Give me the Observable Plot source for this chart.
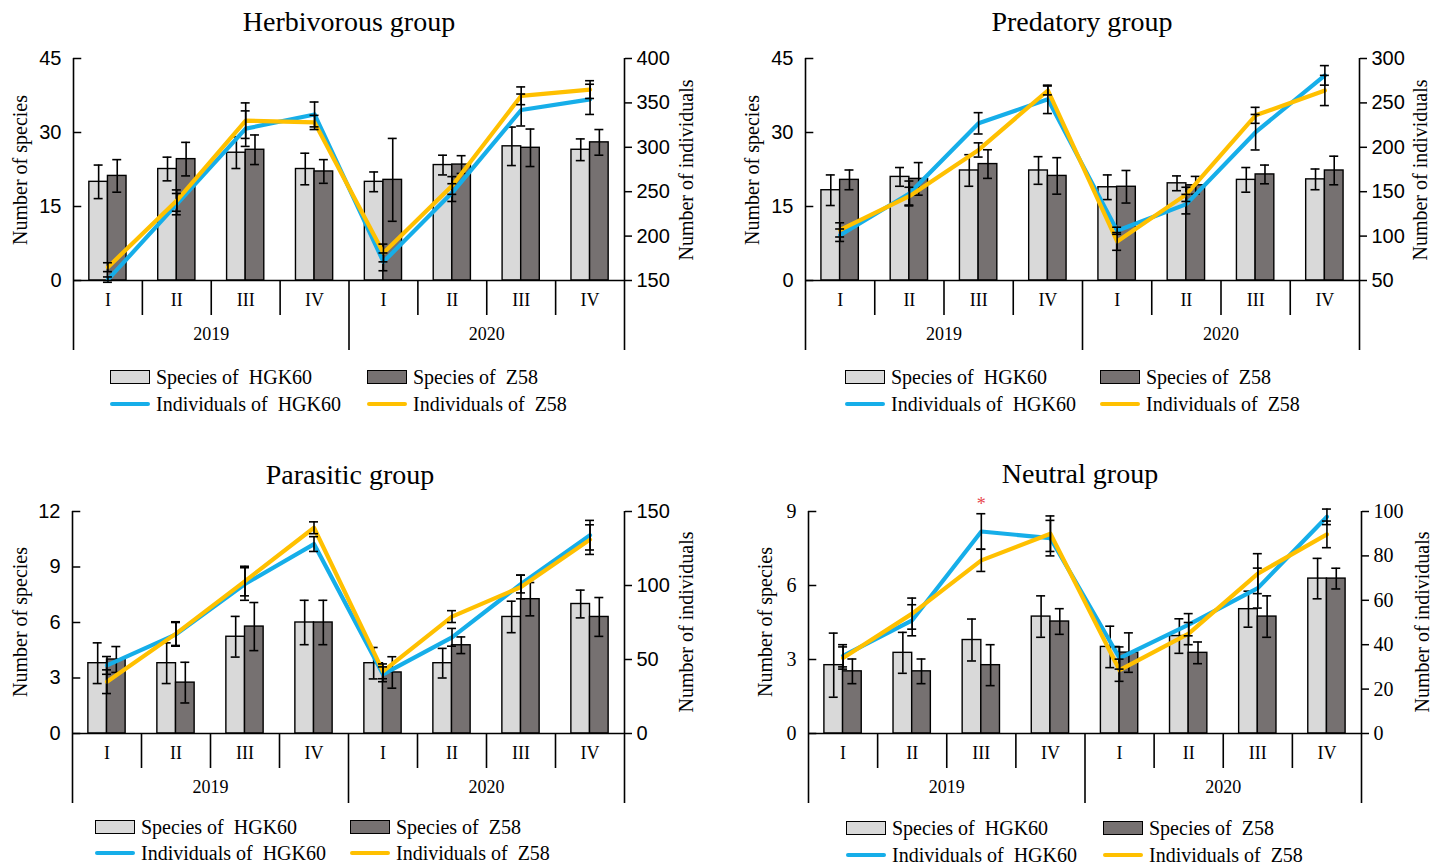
<!DOCTYPE html>
<html><head><meta charset="utf-8">
<script src="https://cdn.jsdelivr.net/npm/d3@7"></script>
<script src="https://cdn.jsdelivr.net/npm/@observablehq/plot@0.6"></script>
<style>
body{margin:0;background:#fff;width:1440px;height:865px;overflow:hidden;position:relative;font-family:"Liberation Serif",serif;color:#000}
.abs{position:absolute}
.title{font-size:28px;transform:translate(-50%,-50%);white-space:nowrap}
.ylab{font-size:20px;white-space:nowrap;transform:translate(-50%,-50%) rotate(-90deg)}
.leg{font-size:20px;white-space:pre;display:flex;align-items:center;height:24px;transform:translateY(-50%)}
.sw{width:40px;height:14px;border:1.5px solid #000;margin-right:6px;box-sizing:border-box}
.ln{width:40px;height:4px;border-radius:2px;margin-right:6px}
svg{position:absolute;overflow:visible}
</style></head><body>
<div id="root"></div>
<script>
// ---------- shared categories & labels ----------
const quarters = ["I","II","III","IV","I","II","III","IV"];
const years = ["2019","2020"];
const legendLabels = ["Species of  HGK60","Species of  Z58","Individuals of  HGK60","Individuals of  Z58"];

// ---------- Herbivorous group ----------
const herbSpHGK    = [20.0, 22.6, 25.9, 22.6, 20.0, 23.4, 27.2, 26.5];
const herbSpHGKErr = [3.4, 2.4, 3.2, 3.2, 2.0, 2.0, 3.9, 2.2];
const herbSpZ58    = [21.2, 24.6, 26.5, 22.1, 20.4, 23.5, 26.9, 28.0];
const herbSpZ58Err = [3.3, 3.4, 3.0, 2.4, 8.4, 1.8, 3.8, 2.6];
const herbInHGK    = [151, 236, 321, 337, 171, 249, 342, 354];
const herbInHGKErr = [3, 12, 20, 14, 10, 10, 18, 17];
const herbInZ58    = [165, 240, 330, 328, 181, 257, 358, 365];
const herbInZ58Err = [5, 12, 20, 8, 10, 10, 10, 10];
const herbLeftTicks = [0, 15, 30, 45];
const herbRightTicks = [150, 200, 250, 300, 350, 400];

// ---------- Predatory group ----------
const predSpHGK    = [18.3, 21.0, 22.3, 22.3, 18.9, 19.7, 20.4, 20.5];
const predSpHGKErr = [3.1, 1.9, 3.2, 2.8, 2.5, 1.5, 2.5, 2.1];
const predSpZ58    = [20.4, 20.6, 23.6, 21.2, 19.0, 19.3, 21.5, 22.3];
const predSpZ58Err = [2.0, 3.3, 2.9, 3.7, 3.3, 1.8, 1.9, 2.9];
const predInHGK    = [101, 148, 227, 254, 106, 136, 217, 281];
const predInHGKErr = [7, 14, 12, 16, 4, 11, 20, 11];
const predInZ58    = [107, 145, 197, 264, 94, 147, 236, 264];
const predInZ58Err = [8, 10, 8, 5, 10, 8, 9, 17];
const predLeftTicks = [0, 15, 30, 45];
const predRightTicks = [50, 100, 150, 200, 250, 300];

// ---------- Parasitic group ----------
const paraSpHGK    = [3.8, 3.8, 5.23, 6.0, 3.8, 3.8, 6.3, 7.0];
const paraSpHGKErr = [1.1, 1.1, 1.1, 1.2, 0.85, 0.8, 0.85, 0.75];
const paraSpZ58    = [4.0, 2.75, 5.78, 6.0, 3.3, 4.77, 7.26, 6.3];
const paraSpZ58Err = [0.7, 1.1, 1.3, 1.2, 0.85, 0.45, 0.9, 1.05];
const paraInHGK    = [46, 67, 101, 128, 40, 65, 101, 134];
const paraInHGKErr = [6, 8, 11, 5, 5, 6, 6, 10];
const paraInZ58    = [35, 67.5, 103, 139, 42, 79, 99, 131];
const paraInZ58Err = [8, 8, 10, 4, 5, 4, 8, 10];
const paraLeftTicks = [0, 3, 6, 9, 12];
const paraRightTicks = [0, 50, 100, 150];

// ---------- Neutral group ----------
const neuSpHGK    = [2.77, 3.27, 3.79, 4.74, 3.51, 3.95, 5.04, 6.28];
const neuSpHGKErr = [1.3, 0.83, 0.85, 0.84, 0.84, 0.7, 0.73, 0.82];
const neuSpZ58    = [2.52, 2.52, 2.77, 4.54, 3.28, 3.27, 4.74, 6.28];
const neuSpZ58Err = [0.5, 0.5, 0.83, 0.52, 0.8, 0.44, 0.84, 0.42];
const neuInHGK    = [35, 51, 91, 88, 34, 49, 65.5, 97.6];
const neuInHGKErr = [5, 7, 8, 8, 5, 5, 9, 3.5];
const neuInZ58    = [34, 54, 78, 90, 28.5, 45, 72, 89.7];
const neuInZ58Err = [5, 7, 5, 8, 5, 5, 9, 6];
const neuSig      = ["", "", "*", "", "", "", "", ""];
const neuLeftTicks = [0, 3, 6, 9];
const neuRightTicks = [0, 20, 40, 60, 80, 100];

const LIGHT = "#d9d9d9", DARK = "#767171", BLUE = "#16aee9", YELLOW = "#ffc000";

const panels = [
  {title:"Herbivorous group", left:0, top:40, mL:73, mR:96, titleX:349, titleY:22, yl:[20,170], yr:[686,170],
   leg:{y:[377,404], x:[110,367]}, tickFont:"Liberation Sans Narrow, Liberation Sans, sans-serif",
   sp:[herbSpHGK, herbSpHGKErr, herbSpZ58, herbSpZ58Err], ind:[herbInHGK, herbInHGKErr, herbInZ58, herbInZ58Err],
   lt:herbLeftTicks, rt:herbRightTicks, sig:null},
  {title:"Predatory group", left:720, top:40, mL:85, mR:81, titleX:1082, titleY:22, yl:[752,170], yr:[1420,170],
   leg:{y:[377,404], x:[845,1100]}, tickFont:"Liberation Sans Narrow, Liberation Sans, sans-serif",
   sp:[predSpHGK, predSpHGKErr, predSpZ58, predSpZ58Err], ind:[predInHGK, predInHGKErr, predInZ58, predInZ58Err],
   lt:predLeftTicks, rt:predRightTicks, sig:null},
  {title:"Parasitic group", left:0, top:493, mL:72, mR:96, titleX:350, titleY:475, yl:[20,622], yr:[686,622],
   leg:{y:[827,853], x:[95,350]}, tickFont:"Liberation Sans Narrow, Liberation Sans, sans-serif",
   sp:[paraSpHGK, paraSpHGKErr, paraSpZ58, paraSpZ58Err], ind:[paraInHGK, paraInHGKErr, paraInZ58, paraInZ58Err],
   lt:paraLeftTicks, rt:paraRightTicks, sig:null},
  {title:"Neutral group", left:720, top:493, mL:88, mR:79, titleX:1080, titleY:474, yl:[765,622], yr:[1422,622],
   leg:{y:[828,855], x:[846,1103]}, tickFont:"Liberation Serif, serif",
   sp:[neuSpHGK, neuSpHGKErr, neuSpZ58, neuSpZ58Err], ind:[neuInHGK, neuInHGKErr, neuInZ58, neuInZ58Err],
   lt:neuLeftTicks, rt:neuRightTicks, sig:neuSig}
];

const root = document.getElementById("root");
function addDiv(cls, x, y, html) {
  const d = document.createElement("div");
  d.className = "abs " + cls;
  d.style.left = x + "px"; d.style.top = y + "px";
  d.innerHTML = html;
  root.appendChild(d);
  return d;
}

function drawPanel(p) {
  const lmax = p.lt[p.lt.length - 1];
  const rmin = p.rt[0], rmax = p.rt[p.rt.length - 1];
  const map = v => (v - rmin) / (rmax - rmin) * lmax;
  const [sH, sHe, sZ, sZe] = p.sp;
  const [iH, iHe, iZ, iZe] = p.ind;
  const bw = 0.27, cap = 0.065;
  const rows = quarters.map((q, i) => ({
    c: i + 0.5,
    lc: i + 0.5 - bw / 2, dc: i + 0.5 + bw / 2,
    sh: sH[i], shLo: sH[i] - sHe[i], shHi: sH[i] + sHe[i],
    sz: sZ[i], szLo: sZ[i] - sZe[i], szHi: sZ[i] + sZe[i],
    ih: map(iH[i]), ihLo: map(iH[i] - iHe[i]), ihHi: map(iH[i] + iHe[i]),
    iz: map(iZ[i]), izLo: map(iZ[i] - iZe[i]), izHi: map(iZ[i] + iZe[i]),
    sig: p.sig ? p.sig[i] : ""
  }));
  const err = (xk, lo, hi) => [
    Plot.ruleX(rows, {x: xk, y1: lo, y2: hi, stroke: "#000", strokeWidth: 1.6}),
    Plot.ruleY(rows, {y: lo, x1: r => r[xk] - cap, x2: r => r[xk] + cap, stroke: "#000", strokeWidth: 1.6}),
    Plot.ruleY(rows, {y: hi, x1: r => r[xk] - cap, x2: r => r[xk] + cap, stroke: "#000", strokeWidth: 1.6})
  ];
  const svg = Plot.plot({
    width: 720, height: 320,
    marginLeft: p.mL, marginRight: p.mR, marginTop: 18, marginBottom: 80,
    x: {domain: [0, 8], axis: null, label: null},
    y: {domain: [0, lmax], axis: null, label: null},
    style: {fontFamily: "Liberation Serif, serif", fontSize: "18px", background: "transparent", color: "#000"},
    marks: [
      Plot.rect(rows, {x1: r => r.c - bw, x2: "c", y1: 0, y2: "sh", fill: LIGHT, stroke: "#000", strokeWidth: 1.4}),
      Plot.rect(rows, {x1: "c", x2: r => r.c + bw, y1: 0, y2: "sz", fill: DARK, stroke: "#000", strokeWidth: 1.4}),
      ...err("lc", "shLo", "shHi"),
      ...err("dc", "szLo", "szHi"),
      Plot.line(rows, {x: "c", y: "ih", stroke: BLUE, strokeWidth: 4.2}),
      Plot.line(rows, {x: "c", y: "iz", stroke: YELLOW, strokeWidth: 4.2}),
      ...err("c", "ihLo", "ihHi"),
      ...err("c", "izLo", "izHi"),
      Plot.text(rows.filter(r => r.sig), {x: "c", y: "ihHi", text: "sig", dy: -9, fill: "#e8474b", fontSize: 18}),
      Plot.ruleY([0], {stroke: "#000", strokeWidth: 1.6}),
      Plot.ruleX([0, 8], {stroke: "#000", strokeWidth: 1.6}),
      Plot.ruleY(p.lt, {x1: 0, x2: 0.12, stroke: "#000", strokeWidth: 1.5}),
      Plot.axisY({anchor: "left", ticks: p.lt, tickSize: 0, tickPadding: 12, label: null,
        fontFamily: p.tickFont, fontSize: 20}),
      Plot.axisY({anchor: "right", ticks: p.rt.map(map), tickSize: 7, tickPadding: 5, strokeWidth: 1.5, label: null,
        tickFormat: v => String(Math.round(rmin + v / lmax * (rmax - rmin))),
        fontFamily: p.tickFont, fontSize: 20}),
      Plot.axisX({ticks: [1, 2, 3, 5, 6, 7], tickSize: 35, fill: "none", strokeWidth: 1.6, label: null}),
      Plot.axisX({ticks: [0, 4, 8], tickSize: 70, fill: "none", strokeWidth: 1.6, label: null}),
      Plot.axisX({ticks: quarters.map((q, i) => i + 0.5), tickSize: 0, tickPadding: 13, label: null,
        tickFormat: v => quarters[Math.floor(v)], fontSize: 18}),
      Plot.axisX({ticks: [2, 6], tickSize: 0, tickPadding: 47, label: null,
        tickFormat: v => years[Math.floor(v / 4)], fontSize: 18})
    ]
  });
  svg.style.left = p.left + "px";
  svg.style.top = p.top + "px";
  root.appendChild(svg);

  addDiv("title", p.titleX, p.titleY, p.title);
  addDiv("ylab", p.yl[0], p.yl[1], "Number of species");
  addDiv("ylab", p.yr[0], p.yr[1], "Number of individuals");
  const [r1, r2] = p.leg.y, [c1, c2] = p.leg.x;
  addDiv("leg", c1, r1, `<span class="sw" style="background:${LIGHT}"></span>${legendLabels[0]}`);
  addDiv("leg", c2, r1, `<span class="sw" style="background:${DARK}"></span>${legendLabels[1]}`);
  addDiv("leg", c1, r2, `<span class="ln" style="background:${BLUE}"></span>${legendLabels[2]}`);
  addDiv("leg", c2, r2, `<span class="ln" style="background:${YELLOW}"></span>${legendLabels[3]}`);
}
panels.forEach(drawPanel);
</script></body></html>
